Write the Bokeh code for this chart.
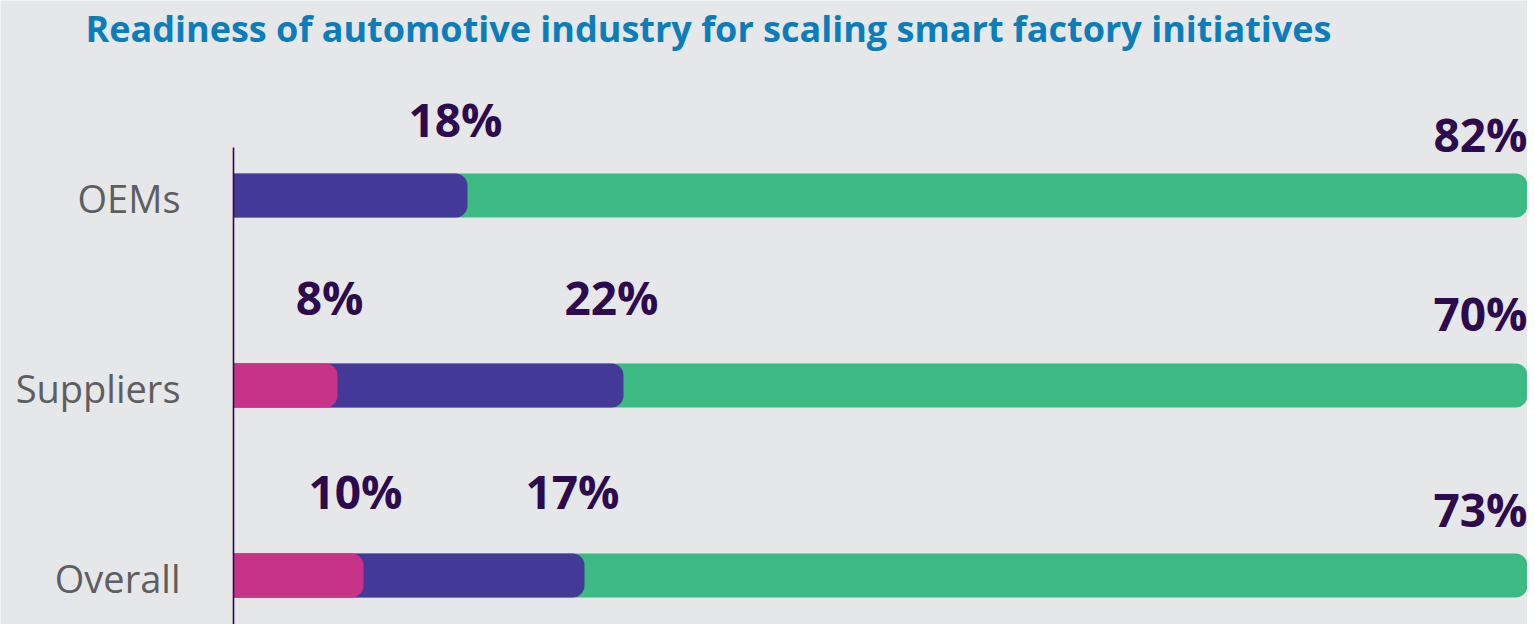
from bokeh.plotting import figure
from bokeh.models import ColumnDataSource, Range1d, Label
from bokeh.core.properties import value
from bokeh.embed import file_html
from bokeh.resources import INLINE

# ---- data ----
categories = ["OEMs", "Suppliers", "Overall"]
pink_vals = [0, 8, 10]
purple_vals = [18, 22, 17]
green_vals = [82, 70, 73]
title_text = "Readiness of automotive industry for scaling smart factory initiatives"

BG = "#e6e7e9"
PINK = "#c8338a"
PURPLE = "#423a96"
GREEN = "#3db983"
LABEL_C = "#2d0a4e"
CAT_C = "#5d5e60"
TITLE_C = "#0a7dba"

# per-row vertical lift of value labels (pixels, style only)
inner_lift = [-54, -66, -62]
outer_lift = [-39, -50, -44]

n = len(categories)
ypos = [n - 1 - i for i in range(n)]  # OEMs on top
H = 0.232
PX = 13.0  # pixels per percent

p = figure(width=1527, height=624, output_backend="svg", toolbar_location=None,
           x_range=Range1d(-233 / PX, (1527 - 233) / PX), y_range=Range1d(-0.258, 3.026),
           min_border_left=0, min_border_right=0, min_border_top=0, min_border_bottom=0)
p.background_fill_color = BG
p.border_fill_color = BG
p.outline_line_color = None
p.grid.visible = False
p.xaxis.visible = False
p.yaxis.visible = False

# cumulative ends
pink_end = pink_vals
purple_end = [a + b for a, b in zip(pink_vals, purple_vals)]
green_end = [a + b + c for a, b, c in zip(pink_vals, purple_vals, green_vals)]

radius = (0, 12, 12, 0)
for ends, col in ((green_end, GREEN), (purple_end, PURPLE), (pink_end, PINK)):
    idx = [i for i, e in enumerate(ends) if e > 0]
    src = ColumnDataSource(dict(y=[ypos[i] for i in idx], right=[ends[i] for i in idx]))
    p.hbar(y="y", left=0, right="right", height=H, source=src, fill_color=col,
           line_color=None, border_radius=radius)

# axis line
p.segment(x0=[0], y0=[-0.3], x1=[0], y1=[ypos[0] + 0.252], line_color=LABEL_C, line_width=1.6)

# category labels
cat_src = ColumnDataSource(dict(x=[0] * n, y=ypos, t=categories))
p.text(x="x", y="y", text="t", source=cat_src, text_align="right", text_baseline="middle",
       x_offset=-53, y_offset=3, text_font=value("Open Sans"), text_font_size="38px",
       text_color=CAT_C)

# value labels
def add_labels(vals, ends, align, xoff, lifts):
    idx = [i for i, v in enumerate(vals) if v > 0]
    src = ColumnDataSource(dict(x=[ends[i] for i in idx],
                                y=[ypos[i] + H / 2 for i in idx],
                                t=[f"{vals[i]}%" for i in idx],
                                yo=[lifts[i] for i in idx]))
    p.text(x="x", y="y", text="t", source=src, text_align=align, text_baseline="alphabetic",
           x_offset=xoff, y_offset="yo", text_font=value("Open Sans"), text_font_style="bold",
           text_font_size="46px", text_color=LABEL_C)

add_labels(pink_vals, pink_end, "center", -8, inner_lift)
add_labels(purple_vals, purple_end, "center", -12, inner_lift)
add_labels(green_vals, green_end, "right", -6, outer_lift)

p.add_layout(Label(x=-148 / PX, y=3.026 - 28 / 190, text=title_text, text_font="Open Sans",
                   text_font_style="bold", text_font_size="36px", text_color=TITLE_C,
                   text_baseline="alphabetic"))

open("out.html", "w").write(file_html(p, INLINE))
